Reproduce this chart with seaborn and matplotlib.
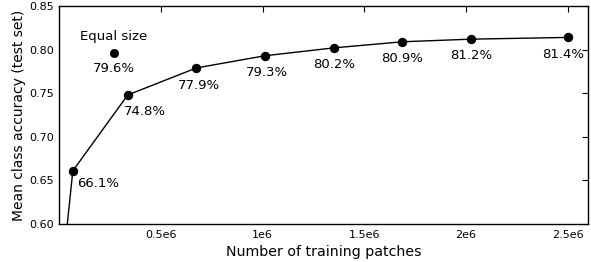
import matplotlib
matplotlib.use("Agg")
import matplotlib.pyplot as plt
import seaborn as sns
import pandas as pd

# Data
patches = [13500, 67500, 337500, 675000, 1012500, 1350000, 1687500, 2025000, 2500000]
accuracy = [0.540, 0.661, 0.748, 0.779, 0.793, 0.802, 0.809, 0.812, 0.814]
labels = [None, "66.1%", "74.8%", "77.9%", "79.3%", "80.2%", "80.9%", "81.2%", "81.4%"]
equal_x = [268000]
equal_y = [0.796]
equal_label = ["79.6%"]
xtick_vals = [500000, 1000000, 1500000, 2000000, 2500000]
xtick_labels = ["0.5e6", "1e6", "1.5e6", "2e6", "2.5e6"]
ytick_vals = [0.60, 0.65, 0.70, 0.75, 0.80, 0.85]

sns.set_style("white")
plt.rcParams['font.family'] = ['DejaVu Sans']
plt.rcParams['text.color'] = 'black'
plt.rcParams['axes.labelcolor'] = 'black'
plt.rcParams['xtick.color'] = 'black'
plt.rcParams['ytick.color'] = 'black'

df = pd.DataFrame({"x": patches, "y": accuracy})
df_eq = pd.DataFrame({"x": equal_x, "y": equal_y})

fig = plt.figure(figsize=(5.91, 2.62), dpi=100)
ax = fig.add_axes([0.1, 0.145, 0.895, 0.832])

sns.lineplot(data=df, x="x", y="y", ax=ax, color="black", linewidth=1,
             marker="o", markersize=6, markeredgecolor="black", markerfacecolor="black")
sns.scatterplot(data=df_eq, x="x", y="y", ax=ax, color="black", s=36, edgecolor="black", linewidth=0.5)

# annotation offsets (points)
offsets = [None, (18, -9), (12, -12), (2, -13), (1, -12), (0, -12), (0, -12), (0, -12), (-3, -12)]
for xv, yv, lab, off in zip(patches, accuracy, labels, offsets):
    if lab is None:
        continue
    ax.annotate(lab, (xv, yv), xytext=off, textcoords="offset points",
                ha="center", va="center", fontsize=9.5, color="black")
for xv, yv, lab in zip(equal_x, equal_y, equal_label):
    ax.annotate(lab, (xv, yv), xytext=(0, -11), textcoords="offset points",
                ha="center", va="center", fontsize=9.5, color="black")
    ax.annotate("Equal size", (xv, yv), xytext=(0, 12), textcoords="offset points",
                ha="center", va="center", fontsize=9.5, color="black")

ax.set_xlim(0, 2600000)
ax.set_ylim(0.60, 0.85)
ax.set_xticks(xtick_vals)
ax.set_xticklabels(xtick_labels)
ax.set_yticks(ytick_vals)
ax.set_yticklabels([f"{v:.2f}" for v in ytick_vals])
ax.tick_params(direction="in", length=4, width=0.8, top=True, right=True,
               labelsize=8, colors="black", pad=4)
for s in ax.spines.values():
    s.set_color("black")
    s.set_linewidth(1)
ax.set_xlabel("Number of training patches", fontsize=10.2, color="black")
ax.set_ylabel("Mean class accuracy (test set)", fontsize=10, labelpad=2, color="black")

fig.savefig("out.png", dpi=100)
